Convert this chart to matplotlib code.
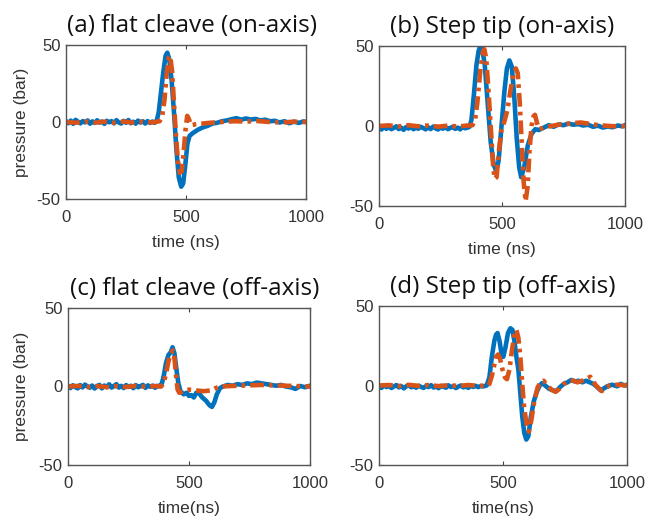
import matplotlib.pyplot as plt
import numpy as np

plt.rcParams['axes.unicode_minus'] = False
plt.rcParams['font.family'] = ['Liberation Sans', 'DejaVu Sans']

BLUE = '#0072BD'
ORANGE = '#D95319'

# ---- data (time in ns, pressure in bar) ----
# (a) flat cleave, on-axis
t_a_blue = [0, 10, 20, 30, 40, 50, 60, 70, 80, 90, 100, 110, 120, 130, 140, 150, 160, 170, 180, 190,
            200, 210, 220, 230, 240, 250, 260, 270, 280, 290, 300, 310, 320, 330, 340, 350, 360, 370,
            378, 386, 395, 405, 415, 422, 430, 440, 450, 460, 470, 480, 488, 497, 506, 515, 530, 550,
            570, 590, 610, 630, 650, 670, 690, 710, 730, 750, 770, 790, 810, 830, 850, 870, 890, 910,
            930, 950, 970, 990, 1000]
p_a_blue = [0.5, -0.8, 0.9, -1.2, 1.4, 0.2, -0.9, 0.6, -0.3, 1.0, -1.1, 0.4, -0.6, 1.1, -0.4, 0.3, -1.2, 0.8, -0.2, 0.6,
            -0.9, 1.2, -0.3, -1.0, 0.7, -0.5, 1.3, -0.8, 0.2, -1.1, 0.9, -0.4, 0.5, -1.0, 0.6, -0.6, 0.3, -0.5,
            1, 6, 18, 32, 43, 45, 41, 27, 6, -18, -36, -42, -40, -28, -14, -9, -7, -5,
            -3.5, -2.5, -1, -0.5, 0.5, 1, 1.8, 2.5, 1.5, 2.3, 1.6, 2.0, 1.0, 1.5, 0.5, 0.8, -0.3, 0.5,
            -0.8, 0.2, -0.6, 0.4, 0]
t_a_red = [0, 40, 80, 120, 160, 200, 240, 280, 320, 360, 390, 400, 410, 420, 428, 434, 442, 450, 458, 466,
           474, 482, 490, 498, 505, 512, 520, 540, 570, 600, 650, 700, 750, 800, 850, 900, 950, 1000]
p_a_red = [0, -0.5, 0.3, -0.4, 0.2, -0.5, 0.3, -0.4, 0.2, -0.3, 0.5, 3, 14, 32, 42, 43, 33, 12, -8, -25,
           -33, -32, -20, -5, 4, 2, -2, -1.5, -1, -0.5, 0, 0.5, 0.3, 0.6, 0, -0.3, 0.2, 0]

# (b) step tip, on-axis
t_b_blue = [0, 10, 20, 30, 40, 50, 60, 70, 80, 90, 100, 110, 120, 130, 140, 150, 160, 170, 180, 190,
            200, 210, 220, 230, 240, 250, 260, 270, 280, 290, 300, 310, 320, 330, 340, 350, 360,
            368, 376, 386, 396, 405, 412, 420, 430, 442, 454, 466, 476, 486, 498, 510, 520, 530, 540,
            550, 560, 570, 578, 590, 605, 620, 635, 650, 670, 690, 710, 730, 750, 770, 790, 810, 830,
            850, 870, 890, 910, 930, 950, 970, 990, 1000]
p_b_blue = [-1.0, -2.2, -0.3, -1.8, -0.6, -2.0, -1.2, -0.2, -1.9, -1.0, -2.4, -0.7, -1.6, -0.4, -2.0, -1.1, -1.7, -0.5, -1.3, -2.1,
            -0.8, -1.9, -0.4, -1.5, -2.2, -0.9, -1.7, -0.6, -2.0, -1.2, -0.5, -1.8, -1.0, -2.1, -0.7, -1.4, -1.0,
            -0.5, 4, 20, 38, 47, 50, 48, 38, 14, -10, -24, -28, -22, 0, 22, 36, 41, 37,
            18, -8, -26, -32, -26, -12, -5, -2, -2.5, -1, 0.5, -0.5, 1.0, 0.5, 1.5, 0.8, 1.2, 0.3,
            0.8, -0.5, 0.2, -1.0, -0.3, -0.8, 0.3, -0.2, 0.5]
t_b_red = [0, 40, 80, 120, 160, 200, 240, 280, 320, 360, 380, 390, 400, 412, 422, 428, 436, 446, 456, 464,
           470, 478, 488, 498, 510, 522, 534, 546, 556, 564, 572, 580, 588, 596, 604, 612, 620, 628, 634,
           642, 652, 670, 700, 730, 760, 790, 820, 850, 880, 910, 940, 970, 1000]
p_b_red = [0, 0.4, -0.3, 0.5, -0.2, 0.3, -0.4, 0.2, -0.3, 0.3, 0.5, 3, 15, 35, 46, 48, 42, 20, -5, -25,
           -33, -32, -15, -2, 3, 10, 22, 32, 36, 33, 15, -10, -35, -47, -38, -15, 0, 6, 7,
           2, -2, -1, 0, 0.8, 1.2, 1.8, 2.2, 1.5, 0.8, 0.3, 0, -0.3, 0]

# (c) flat cleave, off-axis
t_c_blue = [0, 10, 20, 30, 40, 50, 60, 70, 80, 90, 100, 110, 120, 130, 140, 150, 160, 170, 180, 190,
            200, 210, 220, 230, 240, 250, 260, 270, 280, 290, 300, 310, 320, 330, 340, 350, 360, 370, 380,
            388, 396, 405, 415, 425, 432, 440, 448, 456, 465, 478, 490, 500, 510, 520, 530, 542, 555, 570,
            585, 595, 605, 615, 628, 640, 660, 680, 700, 720, 740, 760, 780, 800, 820, 840, 860, 880, 900,
            920, 940, 960, 980, 1000]
p_c_blue = [0.5, -1.0, 0.8, -0.4, -1.2, 0.9, -0.6, 1.2, 0.1, -0.8, 0.6, -1.3, 0.2, 1.0, -1.2, 0.6, -0.4, 1.4, -0.7, 0.3,
            1.5, -0.7, 0.4, -1.0, 0.9, -0.3, 0.5, -1.1, 0.9, -0.5, 0.3, 1.0, -0.9, 0.7, -0.2, 0.6, -0.8, 0.4, 0.2,
            2, 7, 15, 20, 22, 25, 21, 11, 2, -3, -5, -4, -6, -5.5, -7, -4, -4.5, -7, -9,
            -12, -13, -10, -5, -1, 0, 1, 0.5, 1.5, 1, 2, 1.5, 2.5, 2, 1.5, 1, 0.5, 1, 0,
            -0.5, -1.5, 0.3, -0.5, 0.5]
t_c_red = [0, 40, 80, 120, 160, 200, 240, 280, 320, 360, 385, 395, 405, 415, 425, 433, 440, 447, 453, 460,
           475, 500, 530, 560, 590, 610, 630, 700, 800, 900, 1000]
p_c_red = [0, 0.4, -0.3, 0.3, -0.4, 0.2, -0.3, 0.4, -0.2, 0.3, 0, 2, 8, 16, 21, 23, 18, 6, -2, -4,
           -3, -2, -2.5, -3, -2.5, -1, 0, 0.5, 1, 0.5, 0]

# (d) step tip, off-axis
t_d_blue = [0, 10, 20, 30, 40, 50, 60, 70, 80, 90, 100, 110, 120, 130, 140, 150, 160, 170, 180, 190,
            200, 210, 220, 230, 240, 250, 260, 270, 280, 290, 300, 310, 320, 330, 340, 350, 360, 370, 380,
            390, 400, 410, 420, 434, 445, 455, 465, 472, 478, 486, 494, 501, 510, 520, 530, 538, 546, 554,
            562, 570, 578, 586, 594, 602, 612, 624, 636, 648, 658, 670, 685, 700, 715, 730, 745, 760, 775,
            790, 805, 820, 835, 850, 865, 880, 893, 905, 920, 940, 960, 975, 990, 1000]
p_d_blue = [-0.5, -1.5, 0.2, -1.0, -0.3, -1.6, -0.6, 0.3, -1.2, -0.4, -1.8, -0.5, 0.1, -1.1, -0.6, -1.4, -0.2, -0.9, -1.5, -0.3,
            -1.0, 0.2, -1.3, -0.5, -1.7, -0.2, -0.8, -1.4, 0.1, -1.0, -0.4, -1.6, -0.7, 0.0, -1.2, -0.5, -1.5, -0.3, -0.9,
            -0.2, -1.0, -0.4, -0.6, 0, 5, 18, 28, 32, 33, 28, 20, 18, 24, 33, 36, 35, 28, 18,
            10, -5, -20, -30, -34, -32, -20, -10, -4, 0, 1.5, 0, -2, -3, -3.5, -1, 1, 2, 3.5,
            2.5, 3, 2, 3, 2, 1, -1, -3, -2, -0.5, 0.5, -0.5, 1, 0, 0.5]
t_d_red = [0, 40, 80, 120, 160, 200, 240, 280, 320, 360, 400, 440, 445, 455, 465, 472, 480, 488, 498, 508,
           516, 526, 536, 546, 554, 562, 570, 578, 586, 596, 604, 614, 626, 640, 652, 664, 678, 695, 712,
           728, 745, 765, 785, 800, 820, 840, 852, 862, 875, 888, 898, 910, 930, 960, 1000]
p_d_red = [0, 0.3, -0.3, 0.4, -0.2, 0.3, -0.4, 0.2, -0.3, 0.3, -0.2, 0, 1, 6, 13, 18, 19.5, 17, 10, 5,
           4, 10, 22, 32, 35, 30, 18, 0, -15, -25, -29, -22, -10, -1, 2, 3, 0, -2.5, -4,
           -2, 1, 3, 3, 2, 3, 4.5, 5.5, 3, 0, -2, -3.5, -2, 0, 0.5, 0]

panels = [
    ("(a) flat cleave (on-axis)", t_a_blue, p_a_blue, t_a_red, p_a_red, "time (ns)", True),
    ("(b) Step tip (on-axis)", t_b_blue, p_b_blue, t_b_red, p_b_red, "time (ns)", False),
    ("(c) flat cleave (off-axis)", t_c_blue, p_c_blue, t_c_red, p_c_red, "time(ns)", True),
    ("(d) Step tip (off-axis)", t_d_blue, p_d_blue, t_d_red, p_d_red, "time(ns)", False),
]

# axes boxes in pixels: left, top, right, bottom
boxes = [(66, 45, 306, 199), (379, 46, 625, 206), (68, 308, 310, 465), (379, 306, 627, 465)]

W, H = 645, 522
fig = plt.figure(figsize=(W / 100, H / 100), dpi=100)

for (title, tb, pb, tr, pr, xlab, left), (x0, y0, x1, y1) in zip(panels, boxes):
    ax = fig.add_axes([x0 / W, 1 - y1 / H, (x1 - x0) / W, (y1 - y0) / H])
    ax.plot(tb, pb, color=BLUE, lw=3.3, solid_joinstyle='round')
    ax.plot(tr, pr, color=ORANGE, lw=3.3, dashes=(3.0, 1.1, 0.8, 1.1))
    ax.set_xlim(0, 1000)
    ax.set_ylim(-50, 50)
    ax.set_xticks([0, 500, 1000])
    ax.set_yticks([-50, 0, 50])
    ax.tick_params(direction='in', top=True, right=True, length=3, width=0.8,
                   labelsize=12, labelcolor='#333333', color='#444444', pad=4)
    ax.tick_params(axis='x', pad=8)
    for s in ax.spines.values():
        s.set_color('#555555')
        s.set_linewidth(1)
    ax.set_xlabel(xlab, fontsize=12.5, color='#333333', labelpad=7)
    if left:
        fig.text(22 / W, 1 - ((y0 + y1) / 2) / H, "pressure (bar)", rotation=90,
                 ha='center', va='center', fontsize=12.5, color='#333333')
    fig.text((x0 + x1) / 2 / W + (6 / W if left else 0), 1 - (y0 - 19) / H, title,
             ha='center', va='center', fontsize=17.5, color='#111111', family='Open Sans')

fig.savefig('out.png', dpi=100)
